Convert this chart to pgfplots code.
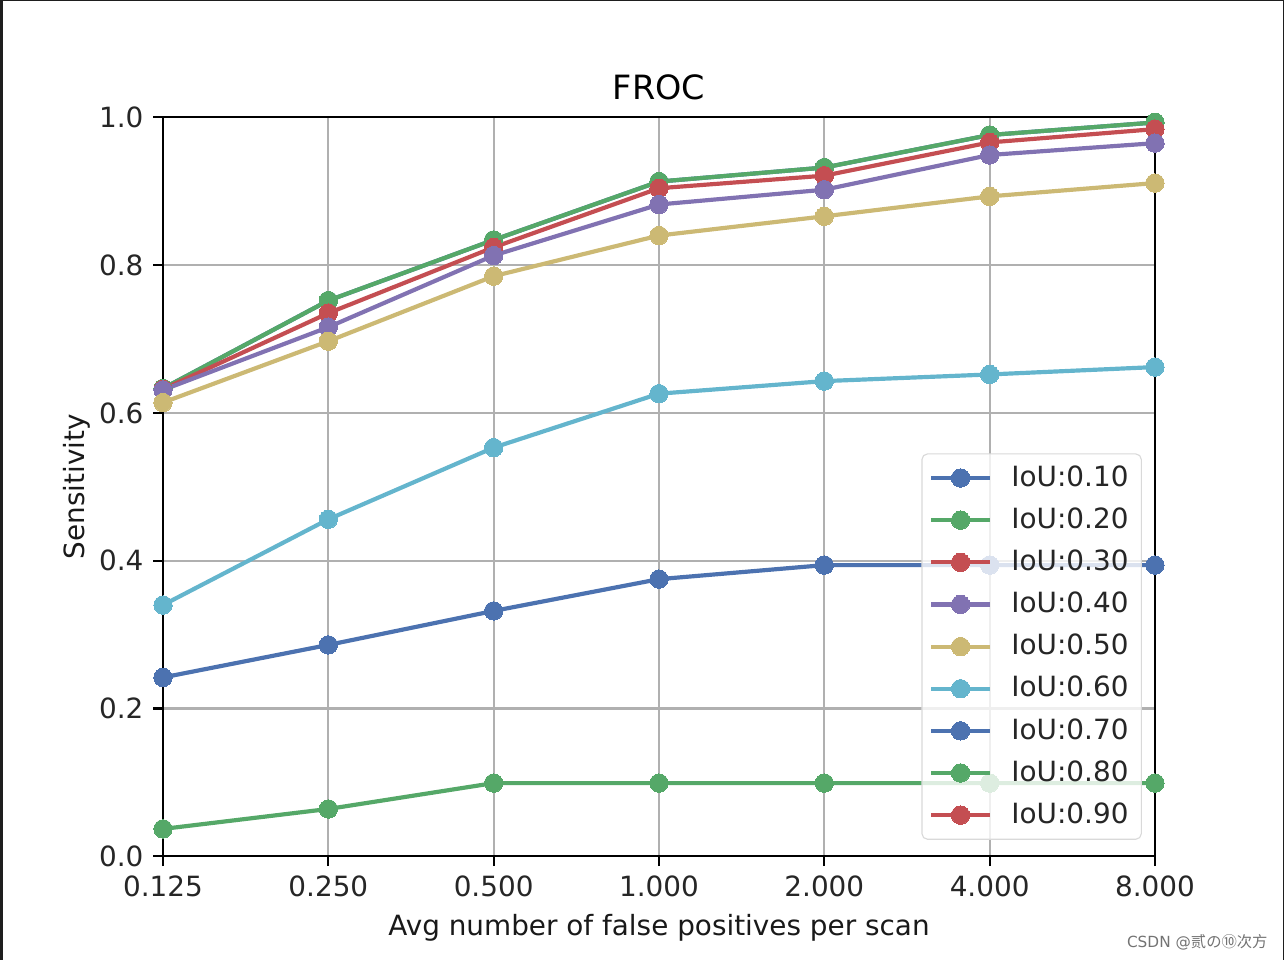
\documentclass[border=0pt]{standalone}
\usepackage{fontspec}
\setmainfont{DejaVu Sans}
\newfontfamily\cjk{Noto Sans CJK SC}
\usepackage{pgfplots}
\pgfplotsset{compat=1.18}

\definecolor{sbblue}{HTML}{4C72B0}
\definecolor{sbgreen}{HTML}{55A868}
\definecolor{sbred}{HTML}{C44E52}
\definecolor{sbpurple}{HTML}{8172B2}
\definecolor{sbyellow}{HTML}{CCB974}
\definecolor{sbcyan}{HTML}{64B5CD}
\definecolor{frame}{HTML}{1E1E1E}

\pgfplotsset{
  froc/.style={line width=1.5pt, mark=*, mark size=3.3pt,
    mark options={solid, draw=#1, fill=#1, line width=0pt}, color=#1},
}

\begin{document}
\begin{tikzpicture}
% whole figure: 1284x960 px at 0.3589 pt/px, axis box at origin
\path[use as bounding box] (-58.5pt,-37.3pt) rectangle (402.3pt,307.3pt);
\fill[frame] (-58.5pt,-37.3pt) rectangle (-57.4pt,307.3pt);
\fill[frame] (-58.5pt,306.9pt) rectangle (402.3pt,307.3pt);
\fill[frame] (401.9pt,-37.3pt) rectangle (402.3pt,307.3pt);
\begin{axis}[
  scale only axis,
  width=356pt, height=265.2pt,
  xmin=0, xmax=6, ymin=0, ymax=1,
  xtick={0,1,2,3,4,5,6},
  xticklabels={0.125,0.250,0.500,1.000,2.000,4.000,8.000},
  ytick={0,0.2,0.4,0.6,0.8,1.0},
  yticklabel style={/pgf/number format/.cd, fixed, fixed zerofill, precision=1},
  /pgf/number format/assume math mode=true,
  tick label style={font=\fontsize{10}{12}\selectfont, text=black!85},
  tick align=outside, tick pos=left,
  major tick length=3.5pt,
  every tick/.style={black, line width=0.8pt},
  axis line style={black, line width=0.8pt},
  grid=major, grid style={color=black!31, line width=0.8pt},
  title={FROC},
  title style={font=\fontsize{12}{14}\selectfont, yshift=-3.3pt},
  xlabel={Avg number of false positives per scan},
  ylabel={Sensitivity},
  label style={font=\fontsize{10}{12}\selectfont, text=black!90},
  xlabel style={yshift=0.6pt},
  ylabel style={yshift=-3.8pt},
  legend cell align=left,
  legend image code/.code={
    \draw[mark repeat=2, mark phase=2, fill opacity=1, draw opacity=1, #1]
      plot coordinates {(0pt,0pt) (10.5pt,0pt) (21pt,0pt)};},
  legend style={at={(1,0)}, anchor=south east, xshift=-4.7pt, yshift=5.9pt,
    fill=white, fill opacity=0.8, text opacity=1, draw=black!15,
    rounded corners=2pt, font=\fontsize{10}{12}\selectfont,
    row sep=2.2pt, inner xsep=2.6pt, inner ysep=2.2pt,
    /tikz/every odd column/.append style={column sep=5pt},
    nodes={text=black!85}},
  clip=false,
]
\addplot[froc=sbblue] coordinates {
  (0,0.633) (1,0.752) (2,0.834) (3,0.913) (4,0.932) (5,0.976) (6,0.993)};
\addlegendentry{IoU:0.10}
\addplot[froc=sbgreen] coordinates {
  (0,0.633) (1,0.752) (2,0.834) (3,0.913) (4,0.932) (5,0.976) (6,0.993)};
\addlegendentry{IoU:0.20}
\addplot[froc=sbred] coordinates {
  (0,0.632) (1,0.735) (2,0.824) (3,0.904) (4,0.921) (5,0.966) (6,0.984)};
\addlegendentry{IoU:0.30}
\addplot[froc=sbpurple] coordinates {
  (0,0.631) (1,0.716) (2,0.813) (3,0.882) (4,0.902) (5,0.949) (6,0.965)};
\addlegendentry{IoU:0.40}
\addplot[froc=sbyellow] coordinates {
  (0,0.614) (1,0.697) (2,0.785) (3,0.840) (4,0.866) (5,0.893) (6,0.911)};
\addlegendentry{IoU:0.50}
\addplot[froc=sbcyan] coordinates {
  (0,0.340) (1,0.456) (2,0.553) (3,0.626) (4,0.643) (5,0.652) (6,0.662)};
\addlegendentry{IoU:0.60}
\addplot[froc=sbblue] coordinates {
  (0,0.242) (1,0.286) (2,0.332) (3,0.375) (4,0.394) (5,0.394) (6,0.394)};
\addlegendentry{IoU:0.70}
\addplot[froc=sbgreen] coordinates {
  (0,0.037) (1,0.064) (2,0.099) (3,0.099) (4,0.099) (5,0.099) (6,0.099)};
\addlegendentry{IoU:0.80}
\addlegendimage{froc=sbred}
\addlegendentry{IoU:0.90}
\end{axis}
\node[anchor=east, text=black!55, font=\fontsize{5.5}{6}\selectfont, inner sep=0pt]
  at (396.6pt,-30.9pt) {CSDN @{\cjk 贰の⑩次方}};
\end{tikzpicture}
\end{document}
